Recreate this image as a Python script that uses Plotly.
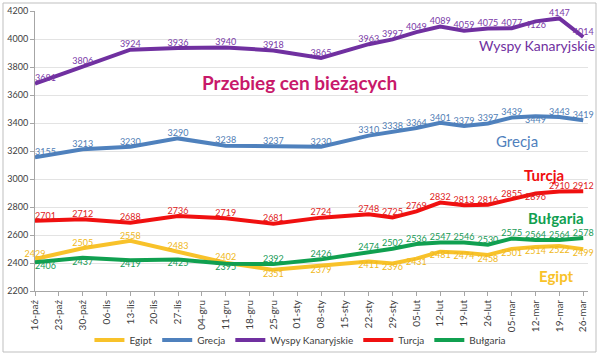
import plotly.graph_objects as go

categories = ["16-paź", "23-paź", "30-paź", "06-lis", "13-lis", "20-lis", "27-lis", "04-gru",
              "11-gru", "18-gru", "25-gru", "01-sty", "08-sty", "15-sty", "22-sty", "29-sty",
              "05-lut", "12-lut", "19-lut", "26-lut", "05-mar", "12-mar", "19-mar", "26-mar"]
dates = ["16-paź", "30-paź", "13-lis", "27-lis", "11-gru", "25-gru", "08-sty", "22-sty", "29-sty",
         "05-lut", "12-lut", "19-lut", "26-lut", "05-mar", "12-mar", "19-mar", "26-mar"]

egipt = [2429, 2505, 2558, 2483, 2402, 2351, 2379, 2411, 2396, 2431, 2481, 2474, 2458, 2501, 2514, 2522, 2499]
grecja = [3155, 3213, 3230, 3290, 3238, 3237, 3230, 3310, 3338, 3364, 3401, 3379, 3397, 3439, 3449, 3443, 3419]
wyspy = [3681, 3806, 3924, 3936, 3940, 3918, 3865, 3963, 3997, 4049, 4089, 4059, 4075, 4077, 4126, 4147, 4014]
turcja = [2701, 2712, 2688, 2736, 2719, 2681, 2724, 2748, 2725, 2769, 2832, 2813, 2816, 2855, 2896, 2910, 2912]
bulgaria = [2406, 2437, 2419, 2425, 2395, 2392, 2426, 2474, 2502, 2536, 2547, 2546, 2530, 2575, 2564, 2564, 2578]

T, B = "top center", "bottom center"
pos_egipt = [T, T, T, T, T, B, B, B, B, B, B, B, B, B, B, B, B]
pos_grecja = ["top right"] + [T] * 13 + [B, T, T]
pos_wyspy = ["top right"] + [T] * 13 + [B, T, T]
pos_turcja = ["top right"] + [T] * 13 + [B, T, T]
pos_bulgaria = ["bottom right", B, B, B, B, T, T, T, T, T, T, T, T, T, T, T, T]

series = [
    ("Egipt", egipt, "#F8C22A", "#F0B820", pos_egipt),
    ("Grecja", grecja, "#4F81BD", "#4F7DB5", pos_grecja),
    ("Wyspy Kanaryjskie", wyspy, "#7030A0", "#7A3AA8", pos_wyspy),
    ("Turcja", turcja, "#F01010", "#E02020", pos_turcja),
    ("Bułgaria", bulgaria, "#10A050", "#169A55", pos_bulgaria),
]

fig = go.Figure()
for name, vals, col, tcol, pos in series:
    fig.add_trace(go.Scatter(
        x=dates, y=vals, name=name, mode="lines+text",
        line=dict(color=col, width=4),
        text=[str(v) for v in vals], textposition=pos,
        textfont=dict(family="Lato", size=9, color=tcol),
        cliponaxis=False,
    ))

fig.update_layout(
    width=600, height=359,
    margin=dict(l=35, r=12, t=11, b=68, autoexpand=False),
    paper_bgcolor="white", plot_bgcolor="white",
    font=dict(family="Lato", color="#404040"),
    showlegend=True,
    legend=dict(orientation="h", x=0.48, xanchor="center", y=-0.175, yanchor="middle",
                font=dict(size=10, color="#404040"), itemwidth=30, tracegroupgap=0,
                bgcolor="rgba(0,0,0,0)"),
    xaxis=dict(type="category", categoryorder="array", categoryarray=categories,
               range=[0, 23.2], tickvals=categories, tickangle=-90,
               tickfont=dict(size=10, color="#404040"),
               showgrid=False, showline=True, linecolor="#A6A6A6", linewidth=1,
               ticks="outside", ticklen=4, tickcolor="#A6A6A6", zeroline=False),
    yaxis=dict(range=[2200, 4200], dtick=200, tickfont=dict(size=9, color="#404040"),
               showgrid=True, gridcolor="#E3E3E3", gridwidth=1,
               showline=True, linecolor="#A6A6A6", linewidth=1,
               ticks="outside", ticklen=4, tickcolor="#A6A6A6", zeroline=False),
)

fig.add_annotation(text="<b>Przebieg cen bieżących</b>", xref="paper", yref="paper",
                   x=(299 - 35) / 553, y=(291 - 69) / 280, showarrow=False,
                   font=dict(family="Lato", size=19, color="#C8196A"))
labels = [
    ("Wyspy Kanaryjskie", 597, 45, "#7030A0", 14),
    ("Grecja", 540, 141, "#4F81BD", 15),
    ("<b>Turcja</b>", 566, 175, "#F01010", 15),
    ("<b>Bułgaria</b>", 586, 218, "#10A050", 15),
    ("<b>Egipt</b>", 576, 276, "#F8C22A", 15),
]
for txt, xr, yc, col, sz in labels:
    fig.add_annotation(text=txt, xref="paper", yref="paper", x=(xr - 35) / 553,
                       y=(291 - yc) / 280, xanchor="right", yanchor="middle",
                       showarrow=False, font=dict(family="Lato", size=sz, color=col))

fig.add_shape(type="rect", xref="paper", yref="paper",
              x0=(3 - 35) / 553, x1=(596 - 35) / 553,
              y0=(291 - 352) / 280, y1=(291 - 3) / 280,
              line=dict(color="#BFBFBF", width=1), layer="below")

fig.write_html("out.html", config={"displayModeBar": False},
               post_script="document.body.style.margin='0';document.body.style.padding='0';")
